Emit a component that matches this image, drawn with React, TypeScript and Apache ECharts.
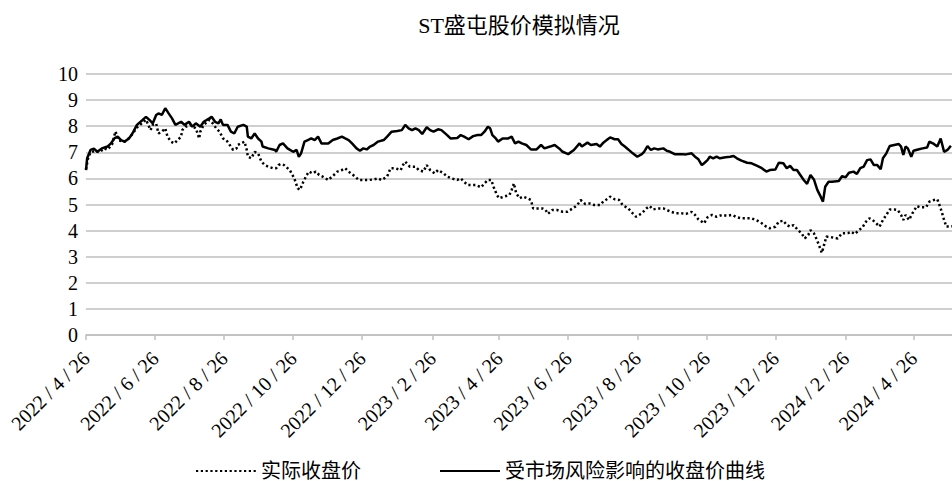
import React, { useEffect, useRef } from "react";
import * as echarts from "echarts";

const titleText = "ST盛屯股价模拟情况";
const seriesNames = ["实际收盘价", "受市场风险影响的收盘价曲线"];
const yTicks = [0, 1, 2, 3, 4, 5, 6, 7, 8, 9, 10];
const tickLabels = [
  "2022/4/26", "2022/6/26", "2022/8/26", "2022/10/26", "2022/12/26", "2023/2/26", "2023/4/26",
  "2023/6/26", "2023/8/26", "2023/10/26", "2023/12/26", "2024/2/26", "2024/4/26",
];
const xStart = "2022-04-26";
const xEnd = "2024-05-30";

const actualDates = [
  "2022-04-26", "2022-04-28", "2022-04-30", "2022-05-04", "2022-05-08", "2022-05-12", "2022-05-15", "2022-05-19",
  "2022-05-22", "2022-05-25", "2022-05-30", "2022-06-02", "2022-06-06", "2022-06-10", "2022-06-14", "2022-06-18",
  "2022-06-22", "2022-06-24", "2022-06-27", "2022-06-29", "2022-07-02", "2022-07-05", "2022-07-07", "2022-07-10",
  "2022-07-13", "2022-07-16", "2022-07-19", "2022-07-20", "2022-07-23", "2022-07-27", "2022-08-01", "2022-08-04",
  "2022-08-05", "2022-08-08", "2022-08-13", "2022-08-16", "2022-08-19", "2022-08-22", "2022-08-25", "2022-08-28",
  "2022-08-31", "2022-09-03", "2022-09-06", "2022-09-07", "2022-09-10", "2022-09-13", "2022-09-15", "2022-09-16",
  "2022-09-19", "2022-09-22", "2022-09-25", "2022-09-28", "2022-10-01", "2022-10-04", "2022-10-08", "2022-10-11",
  "2022-10-13", "2022-10-15", "2022-10-18", "2022-10-23", "2022-10-27", "2022-10-30", "2022-11-01", "2022-11-04",
  "2022-11-07", "2022-11-09", "2022-11-12", "2022-11-15", "2022-11-18", "2022-11-21", "2022-11-26", "2022-11-30",
  "2022-12-04", "2022-12-08", "2022-12-11", "2022-12-14", "2022-12-18", "2022-12-23", "2022-12-27", "2023-01-01",
  "2023-01-05", "2023-01-09", "2023-01-12", "2023-01-17", "2023-01-20", "2023-01-24", "2023-01-29", "2023-01-31",
  "2023-02-02", "2023-02-06", "2023-02-11", "2023-02-14", "2023-02-18", "2023-02-21", "2023-02-24", "2023-02-28",
  "2023-03-03", "2023-03-08", "2023-03-11", "2023-03-15", "2023-03-20", "2023-03-23", "2023-03-26", "2023-03-29",
  "2023-04-02", "2023-04-05", "2023-04-10", "2023-04-13", "2023-04-16", "2023-04-19", "2023-04-21", "2023-04-24",
  "2023-04-26", "2023-04-30", "2023-05-05", "2023-05-07", "2023-05-09", "2023-05-11", "2023-05-14", "2023-05-17",
  "2023-05-21", "2023-05-24", "2023-05-26", "2023-05-30", "2023-06-03", "2023-06-06", "2023-06-08", "2023-06-12",
  "2023-06-16", "2023-06-21", "2023-06-25", "2023-06-30", "2023-07-04", "2023-07-07", "2023-07-11", "2023-07-15",
  "2023-07-19", "2023-07-24", "2023-07-27", "2023-07-30", "2023-08-02", "2023-08-06", "2023-08-10", "2023-08-13",
  "2023-08-18", "2023-08-22", "2023-08-25", "2023-08-30", "2023-09-03", "2023-09-06", "2023-09-09", "2023-09-13",
  "2023-09-18", "2023-09-21", "2023-09-25", "2023-09-29", "2023-10-04", "2023-10-08", "2023-10-13", "2023-10-16",
  "2023-10-19", "2023-10-24", "2023-10-27", "2023-10-31", "2023-11-04", "2023-11-09", "2023-11-13", "2023-11-18",
  "2023-11-22", "2023-11-26", "2023-12-01", "2023-12-05", "2023-12-10", "2023-12-14", "2023-12-18", "2023-12-21",
  "2023-12-26", "2023-12-29", "2024-01-02", "2024-01-05", "2024-01-08", "2024-01-11", "2024-01-15", "2024-01-18",
  "2024-01-21", "2024-01-24", "2024-01-26", "2024-01-29", "2024-02-01", "2024-02-03", "2024-02-05", "2024-02-07",
  "2024-02-09", "2024-02-14", "2024-02-19", "2024-02-23", "2024-02-28", "2024-03-02", "2024-03-05", "2024-03-09",
  "2024-03-12", "2024-03-15", "2024-03-18", "2024-03-21", "2024-03-24", "2024-03-27", "2024-03-30", "2024-04-02",
  "2024-04-05", "2024-04-09", "2024-04-12", "2024-04-15", "2024-04-17", "2024-04-19", "2024-04-22", "2024-04-25",
  "2024-04-29", "2024-05-02", "2024-05-07", "2024-05-10", "2024-05-14", "2024-05-17", "2024-05-20", "2024-05-23",
  "2024-05-25", "2024-05-28", "2024-05-30",
];
const actualPrices = [
  6.35, 6.8, 7.0, 7.05, 7.0, 7.15, 7.1, 7.3,
  7.8, 7.45, 7.4, 7.5, 7.7, 7.95, 8.1, 8.25,
  7.85, 8.05, 8.1, 7.72, 7.79, 7.92, 7.6, 7.41,
  7.34, 7.47, 7.6, 7.85, 7.98, 8.05, 7.92, 7.53,
  7.79, 8.05, 8.24, 8.11, 7.92, 7.79, 7.53, 7.47,
  7.28, 7.09, 7.15, 7.28, 7.34, 7.41, 7.09, 6.83,
  6.77, 7.02, 6.96, 6.64, 6.51, 6.45, 6.39, 6.39,
  6.51, 6.55, 6.51, 6.32, 6.0, 5.62, 5.56, 5.87,
  6.13, 6.26, 6.19, 6.26, 6.13, 6.07, 5.94, 6.09,
  6.26, 6.32, 6.39, 6.26, 6.13, 5.94, 5.94, 5.94,
  5.96, 6.0, 5.94, 6.07, 6.39, 6.39, 6.32, 6.51,
  6.64, 6.45, 6.45, 6.32, 6.26, 6.51, 6.32, 6.19,
  6.32, 6.19, 6.07, 6.0, 5.94, 6.0, 5.87, 5.75,
  5.75, 5.75, 5.66, 5.81, 5.94, 5.94, 5.68, 5.36,
  5.24, 5.3, 5.36, 5.56, 5.81, 5.43, 5.24, 5.3,
  5.24, 5.17, 4.85, 4.85, 4.85, 4.79, 4.64, 4.79,
  4.79, 4.72, 4.72, 4.85, 4.98, 5.17, 5.02, 5.04,
  4.98, 4.98, 5.11, 5.2, 5.3, 5.2, 5.17, 4.98,
  4.85, 4.66, 4.53, 4.66, 4.85, 4.94, 4.81, 4.85,
  4.85, 4.79, 4.72, 4.66, 4.66, 4.64, 4.72, 4.6,
  4.43, 4.28, 4.51, 4.6, 4.53, 4.6, 4.57, 4.6,
  4.51, 4.47, 4.47, 4.47, 4.38, 4.28, 4.15, 4.09,
  4.15, 4.34, 4.38, 4.21, 4.15, 4.21, 4.02, 3.9,
  3.7, 3.83, 4.02, 3.9, 3.61, 3.38, 3.15, 3.45,
  3.77, 3.74, 3.7, 3.9, 3.9, 3.96, 3.87, 4.02,
  4.13, 4.34, 4.47, 4.4, 4.28, 4.15, 4.41, 4.6,
  4.81, 4.81, 4.79, 4.6, 4.41, 4.6, 4.41, 4.66,
  4.94, 4.89, 4.89, 5.11, 5.17, 5.2, 4.85, 4.41,
  4.15, 4.17, 4.17,
];

const riskDates = [
  "2022-04-26", "2022-04-27", "2022-04-30", "2022-05-03", "2022-05-06", "2022-05-10", "2022-05-15", "2022-05-18",
  "2022-05-21", "2022-05-24", "2022-05-27", "2022-05-30", "2022-06-03", "2022-06-06", "2022-06-10", "2022-06-15",
  "2022-06-18", "2022-06-21", "2022-06-24", "2022-06-27", "2022-06-29", "2022-07-02", "2022-07-05", "2022-07-08",
  "2022-07-11", "2022-07-14", "2022-07-19", "2022-07-22", "2022-07-26", "2022-07-29", "2022-08-01", "2022-08-05",
  "2022-08-08", "2022-08-13", "2022-08-15", "2022-08-18", "2022-08-21", "2022-08-23", "2022-08-25", "2022-08-29",
  "2022-09-01", "2022-09-04", "2022-09-07", "2022-09-12", "2022-09-15", "2022-09-16", "2022-09-19", "2022-09-22",
  "2022-09-25", "2022-09-28", "2022-09-29", "2022-10-04", "2022-10-10", "2022-10-11", "2022-10-14", "2022-10-17",
  "2022-10-21", "2022-10-26", "2022-10-29", "2022-10-31", "2022-11-02", "2022-11-05", "2022-11-08", "2022-11-11",
  "2022-11-14", "2022-11-17", "2022-11-20", "2022-11-26", "2022-11-30", "2022-12-04", "2022-12-08", "2022-12-11",
  "2022-12-14", "2022-12-17", "2022-12-21", "2022-12-24", "2022-12-27", "2022-12-30", "2023-01-02", "2023-01-05",
  "2023-01-09", "2023-01-14", "2023-01-17", "2023-01-21", "2023-01-26", "2023-01-30", "2023-02-02", "2023-02-05",
  "2023-02-08", "2023-02-11", "2023-02-14", "2023-02-17", "2023-02-21", "2023-02-24", "2023-02-27", "2023-03-03",
  "2023-03-06", "2023-03-11", "2023-03-14", "2023-03-20", "2023-03-23", "2023-03-26", "2023-03-30", "2023-04-03",
  "2023-04-07", "2023-04-10", "2023-04-13", "2023-04-16", "2023-04-18", "2023-04-20", "2023-04-23", "2023-04-25",
  "2023-04-29", "2023-05-04", "2023-05-07", "2023-05-10", "2023-05-13", "2023-05-16", "2023-05-20", "2023-05-24",
  "2023-05-29", "2023-06-02", "2023-06-05", "2023-06-10", "2023-06-14", "2023-06-18", "2023-06-21", "2023-06-26",
  "2023-07-01", "2023-07-06", "2023-07-08", "2023-07-13", "2023-07-16", "2023-07-21", "2023-07-24", "2023-07-27",
  "2023-07-30", "2023-08-02", "2023-08-06", "2023-08-09", "2023-08-12", "2023-08-15", "2023-08-18", "2023-08-22",
  "2023-08-26", "2023-08-30", "2023-09-01", "2023-09-04", "2023-09-07", "2023-09-10", "2023-09-13", "2023-09-18",
  "2023-09-21", "2023-09-24", "2023-09-28", "2023-10-04", "2023-10-08", "2023-10-13", "2023-10-16", "2023-10-19",
  "2023-10-22", "2023-10-24", "2023-10-27", "2023-10-29", "2023-11-01", "2023-11-04", "2023-11-07", "2023-11-12",
  "2023-11-16", "2023-11-19", "2023-11-22", "2023-11-26", "2023-12-01", "2023-12-05", "2023-12-10", "2023-12-14",
  "2023-12-18", "2023-12-21", "2023-12-26", "2023-12-29", "2024-01-02", "2024-01-05", "2024-01-08", "2024-01-11",
  "2024-01-14", "2024-01-17", "2024-01-20", "2024-01-23", "2024-01-26", "2024-01-29", "2024-02-01", "2024-02-04",
  "2024-02-06", "2024-02-08", "2024-02-11", "2024-02-14", "2024-02-20", "2024-02-23", "2024-02-26", "2024-02-29",
  "2024-03-04", "2024-03-07", "2024-03-10", "2024-03-13", "2024-03-16", "2024-03-19", "2024-03-22", "2024-03-25",
  "2024-03-28", "2024-03-30", "2024-04-02", "2024-04-05", "2024-04-09", "2024-04-13", "2024-04-15", "2024-04-17",
  "2024-04-19", "2024-04-21", "2024-04-24", "2024-04-26", "2024-04-30", "2024-05-04", "2024-05-08", "2024-05-10",
  "2024-05-14", "2024-05-17", "2024-05-20", "2024-05-23", "2024-05-26", "2024-05-29",
];
const riskPrices = [
  6.32, 6.77, 7.09, 7.14, 7.02, 7.15, 7.22, 7.34,
  7.53, 7.6, 7.47, 7.41, 7.53, 7.72, 8.05, 8.24,
  8.36, 8.24, 8.11, 8.43, 8.49, 8.43, 8.69, 8.49,
  8.3, 8.05, 8.17, 8.05, 8.17, 7.98, 8.11, 7.98,
  8.17, 8.3, 8.36, 8.17, 8.11, 8.26, 8.05, 8.05,
  7.79, 7.72, 7.98, 8.05, 7.98, 7.6, 7.53, 7.72,
  7.53, 7.41, 7.22, 7.15, 7.09, 7.02, 7.28, 7.34,
  7.15, 7.02, 7.09, 6.83, 6.96, 7.41, 7.47, 7.53,
  7.47, 7.6, 7.34, 7.34, 7.47, 7.53, 7.6, 7.53,
  7.47, 7.34, 7.15, 7.06, 7.15, 7.11, 7.22, 7.28,
  7.41, 7.47, 7.6, 7.79, 7.82, 7.85, 8.05, 7.92,
  7.85, 7.92, 7.85, 7.7, 7.96, 7.85, 7.79, 7.88,
  7.85, 7.66, 7.53, 7.55, 7.66, 7.6, 7.5, 7.62,
  7.66, 7.66, 7.79, 7.98, 7.92, 7.66, 7.53, 7.41,
  7.53, 7.53, 7.6, 7.34, 7.41, 7.34, 7.28, 7.11,
  7.11, 7.28, 7.15, 7.22, 7.28, 7.15, 7.02, 6.93,
  7.09, 7.34, 7.22, 7.37, 7.28, 7.32, 7.22, 7.37,
  7.47, 7.57, 7.5, 7.5, 7.32, 7.22, 7.11, 6.96,
  6.83, 6.93, 7.02, 7.24, 7.09, 7.15, 7.11, 7.15,
  7.06, 7.02, 6.93, 6.93, 6.92, 6.96, 6.83, 6.73,
  6.51, 6.58, 6.7, 6.83, 6.77, 6.83, 6.77, 6.81,
  6.83, 6.86, 6.77, 6.68, 6.6, 6.58, 6.48, 6.39,
  6.26, 6.32, 6.34, 6.6, 6.58, 6.39, 6.48, 6.32,
  6.32, 6.13, 5.94, 5.79, 6.13, 5.96, 5.56, 5.3,
  5.11, 5.68, 5.87, 5.87, 5.9, 6.09, 6.04, 6.22,
  6.26, 6.17, 6.39, 6.45, 6.7, 6.73, 6.51, 6.51,
  6.35, 6.77, 6.96, 7.24, 7.28, 7.32, 7.22, 6.9,
  7.22, 7.15, 6.83, 7.06, 7.11, 7.15, 7.18, 7.41,
  7.32, 7.22, 7.53, 7.02, 7.09, 7.25,
];

const FONT = "'Liberation Serif', 'Noto Sans CJK SC', serif";

function ymdToTime(y: number, m: number, d: number): number {
  return new Date(y, m - 1, d).getTime();
}
function isoToTime(s: string): number {
  const [y, m, d] = s.split("-").map(Number);
  return ymdToTime(y, m, d);
}
function labelToTime(label: string): number {
  const [y, m, d] = label.split("/").map(Number);
  return ymdToTime(y, m, d);
}

export default function App() {
  const ref = useRef<HTMLDivElement>(null);
  useEffect(() => {
    document.body.style.margin = "0";
    document.body.style.overflow = "hidden";
    if (!ref.current) return;
    const chart = echarts.init(ref.current, null, { renderer: "svg" });
    const tickValues = tickLabels.map(labelToTime);
    const labelAt = (v: number): string => {
      for (let i = 0; i < tickValues.length; i++) {
        if (Math.abs(tickValues[i] - v) < 3600 * 1000) return tickLabels[i].split("/").join(" / ");
      }
      return "";
    };
    chart.setOption({
      animation: false,
      backgroundColor: "#ffffff",
      title: {
        text: titleText,
        left: 514,
        top: 9,
        textAlign: "center",
        textStyle: { fontFamily: FONT, fontSize: 22, fontWeight: "normal", color: "#000" },
      },
      legend: {
        left: 190,
        top: 456,
        itemWidth: 60,
        itemHeight: 20,
        itemGap: 78,
        itemStyle: { opacity: 0 },
        textStyle: { fontFamily: FONT, fontSize: 20, color: "#000" },
        data: seriesNames,
      },
      grid: { left: 86, right: 0, top: 74, bottom: 146, containLabel: false },
      xAxis: {
        type: "value",
        min: isoToTime(xStart),
        max: isoToTime(xEnd),
        axisLine: { show: true, lineStyle: { color: "#bfbfbf", width: 1.5 } },
        axisTick: {
          show: true,
          customValues: tickValues,
          length: 5,
          lineStyle: { color: "#bfbfbf", width: 1.5 },
        },
        axisLabel: {
          customValues: tickValues,
          rotate: 45,
          margin: 20,
          fontFamily: FONT,
          fontSize: 20,
          color: "#000",
          formatter: (v: number) => labelAt(v),
        },
        splitLine: { show: false },
      },
      yAxis: {
        type: "value",
        min: yTicks[0],
        max: yTicks[yTicks.length - 1],
        interval: 1,
        axisLine: { show: false },
        axisTick: { show: false },
        axisLabel: { fontFamily: FONT, fontSize: 20, color: "#000", margin: 8 },
        splitLine: { lineStyle: { color: "#bfbfbf", width: 1.5 } },
      },
      series: [
        {
          name: seriesNames[0],
          type: "line",
          showSymbol: false,
          symbol: "none",
          data: actualDates.map((d, i) => [isoToTime(d), actualPrices[i]]),
          lineStyle: { color: "#000", width: 2.5, type: [2.2, 2.6] },
          itemStyle: { color: "#000" },
        },
        {
          name: seriesNames[1],
          type: "line",
          showSymbol: false,
          symbol: "none",
          data: riskDates.map((d, i) => [isoToTime(d), riskPrices[i]]),
          lineStyle: { color: "#000", width: 2.5, type: "solid" },
          itemStyle: { color: "#000" },
        },
      ],
    });
    return () => chart.dispose();
  }, []);
  return <div ref={ref} style={{ width: 952, height: 481 }} />;
}
